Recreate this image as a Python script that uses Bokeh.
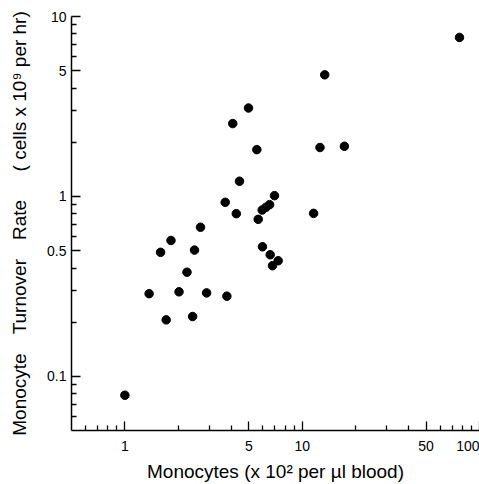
from bokeh.plotting import figure
from bokeh.models import Range1d, FixedTicker, CustomJSTickFormatter, ColumnDataSource
from bokeh.embed import file_html
from bokeh.resources import INLINE

# Monocytes (x10^2 per ul blood)
monocytes = [77.1, 13.4, 4.98, 4.06, 5.55, 12.6, 17.3, 4.43, 6.98, 3.68,
             4.25, 5.95, 6.25, 6.55, 5.65, 11.6, 2.67, 1.82, 1.59, 2.47,
             5.97, 6.6, 6.8, 7.32, 2.24, 1.37, 2.02, 2.89, 3.76, 1.71,
             2.41, 1.0]
# Monocyte turnover rate (cells x10^9 per hr)
turnover = [7.65, 4.74, 3.10, 2.54, 1.82, 1.87, 1.90, 1.215, 1.01, 0.927,
            0.802, 0.84, 0.87, 0.90, 0.746, 0.805, 0.674, 0.569, 0.489, 0.503,
            0.525, 0.474, 0.412, 0.439, 0.379, 0.288, 0.295, 0.291, 0.279, 0.206,
            0.215, 0.0785]

x_major = [1, 5, 10, 50, 100]
x_minor = [0.6, 0.7, 0.8, 0.9, 2, 3, 4, 6, 7, 8, 9, 20, 30, 40, 60, 70, 80, 90]
y_major = [0.1, 0.5, 1, 5, 10]
y_minor = [0.06, 0.07, 0.08, 0.09, 0.2, 0.3, 0.4, 0.6, 0.7, 0.8, 0.9,
           2, 3, 4, 6, 7, 8, 9]

FONT = "Liberation Sans"

p = figure(x_axis_type="log", y_axis_type="log",
           x_range=Range1d(0.5, 100), y_range=Range1d(0.05, 10),
           width=479, height=484,
           min_border_left=71, min_border_right=0,
           min_border_top=16, min_border_bottom=51,
           output_backend="svg", toolbar_location=None)

p.outline_line_color = None
p.xgrid.visible = False
p.ygrid.visible = False
p.background_fill_color = "white"
p.border_fill_color = "white"

src = ColumnDataSource(dict(x=monocytes, y=turnover))
p.scatter("x", "y", source=src, size=8.5, fill_color="black", line_color="black")

fmt = CustomJSTickFormatter(code="return tick.toString();")

p.xaxis.ticker = FixedTicker(ticks=x_major, minor_ticks=x_minor)
p.yaxis.ticker = FixedTicker(ticks=y_major, minor_ticks=y_minor)
for ax in (p.xaxis[0], p.yaxis[0]):
    ax.formatter = fmt
    ax.axis_line_color = "black"
    ax.axis_line_width = 1.5
    ax.major_tick_line_color = "black"
    ax.minor_tick_line_color = "black"
    ax.major_tick_line_width = 1.3
    ax.minor_tick_line_width = 1.3
    ax.major_tick_in = 9
    ax.major_tick_out = 0
    ax.minor_tick_in = 5
    ax.minor_tick_out = 0
    ax.major_label_text_font = FONT
    ax.major_label_text_font_size = "14px"
    ax.major_label_text_color = "black"
    ax.axis_label_text_font = FONT
    ax.axis_label_text_font_size = "19px"
    ax.axis_label_text_font_style = "normal"
    ax.axis_label_text_color = "black"

SP = "\u2002"
p.xaxis.axis_label = "Monocytes (x 10\u00b2 per \u00b5l blood)"
p.yaxis.axis_label = ("Monocyte" + SP + SP + "Turnover" + SP + SP + "Rate" + SP + SP + SP
                      + "( cells x 10\u2079 per hr)")
p.xaxis.major_label_standoff = 10
p.xaxis.axis_label_standoff = 7
p.yaxis.major_label_standoff = 5
p.yaxis.axis_label_standoff = 14

open("out.html", "w").write(file_html(p, INLINE))
